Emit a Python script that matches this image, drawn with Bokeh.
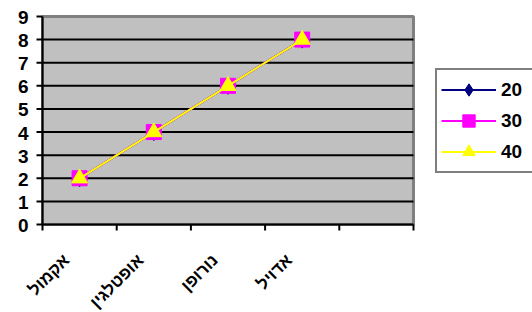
import math
from bokeh.plotting import figure
from bokeh.models import Range1d, Legend, LegendItem
from bokeh.core.properties import value
from bokeh.embed import file_html
from bokeh.resources import INLINE

categories = ["אקמול", "אופטלגין", "נורופן", "אדויל", ""]
series_names = ["20", "30", "40"]
s20 = [2, 4, 6, 8]
s30 = [2, 4, 6, 8]
s40 = [2, 4, 6, 8]
y_ticks = list(range(0, 10))

FONT = "Liberation Sans"

W, H = 532, 312
LEFT, TOP = 42, 16            # top-left corner of the grey plot area
PLOT_W, PLOT_H = 371, 208     # grey plot area in px
TICK = 6

n = len(categories)
y_max = y_ticks[-1]
px_x = PLOT_W / n
px_y = PLOT_H / y_max
# category slots on a numeric axis (slot i spans i..i+1, centre i+0.5)
centres = [i + 0.5 for i in range(n)]
bounds = list(range(n + 1))

# the frame covers the whole canvas so that no text is clipped
p = figure(width=W, height=H, output_backend="svg", toolbar_location=None,
           x_range=Range1d(-LEFT / px_x, (W - LEFT) / px_x),
           y_range=Range1d(-(H - TOP - PLOT_H) / px_y, y_max + TOP / px_y),
           min_border=0)

p.background_fill_color = "white"
p.border_fill_color = "white"
p.outline_line_color = None
p.xgrid.visible = False
p.ygrid.visible = False
p.xaxis.visible = False
p.yaxis.visible = False

# grey plot area with grey border
p.quad(left=[0], right=[n], bottom=[0], top=[y_max], fill_color="#C0C0C0",
       line_color="#808080", line_width=3, level="image")
# horizontal grid lines, only across the plot area
grid = y_ticks[1:-1]
p.segment(x0=[0] * len(grid), x1=[n] * len(grid), y0=grid, y1=grid,
          line_color="black", line_width=2, level="underlay")

# category axis: line, tick marks at slot boundaries, rotated labels
p.segment(x0=[0], x1=[n], y0=[0], y1=[0], line_color="black", line_width=2, level="underlay")
p.segment(x0=bounds, x1=bounds, y0=[0] * len(bounds), y1=[-TICK / px_y] * len(bounds),
          line_color="black", line_width=2, level="underlay")
p.text(x=centres, y=[0] * n, text=categories, angle=math.pi / 4,
       x_offset=-13, y_offset=33, text_align="right", text_baseline="middle",
       text_font=value(FONT), text_font_style=value("bold"), text_font_size=value("17px"),
       text_color="black")

# value axis: line, tick marks, labels
p.segment(x0=[0], x1=[0], y0=[0], y1=[y_max], line_color="black", line_width=2, level="underlay")
p.segment(x0=[0] * len(y_ticks), x1=[-TICK / px_x] * len(y_ticks), y0=y_ticks, y1=y_ticks,
          line_color="black", line_width=2, level="underlay")
p.text(x=[0] * len(y_ticks), y=y_ticks, text=[str(t) for t in y_ticks],
       x_offset=-14, y_offset=1, text_align="right", text_baseline="middle",
       text_font=value(FONT), text_font_style=value("bold"), text_font_size=value("19px"),
       text_color="black")

xs = centres[:len(s20)]
items = []

l1 = p.line(xs, s20, line_color="#000080", line_width=2)
m1 = p.scatter(xs, s20, marker="diamond", size=17,
               fill_color="#000080", line_color="#000080")
items.append(LegendItem(label=series_names[0], renderers=[l1, m1]))

l2 = p.line(xs, s30, line_color="#FF00FF", line_width=2)
m2 = p.scatter(xs, s30, marker="square", size=15,
               fill_color="#FF00FF", line_color="#FF00FF")
items.append(LegendItem(label=series_names[1], renderers=[l2, m2]))

l3 = p.line(xs, s40, line_color="#FFFF00", line_width=2)
m3 = p.scatter(xs, s40, marker="triangle", size=16,
               fill_color="#FFFF00", line_color="#FFFF00")
items.append(LegendItem(label=series_names[2], renderers=[l3, m3]))

legend = Legend(items=items, location=(435, 139))
legend.label_text_font = FONT
legend.label_text_font_style = "bold"
legend.label_text_font_size = "19px"
legend.label_text_color = "black"
legend.glyph_width = 55
legend.glyph_height = 31
legend.label_height = 31
legend.label_width = 40
legend.spacing = 0
legend.padding = 4
legend.margin = 0
legend.label_standoff = 5
legend.border_line_color = "black"
legend.border_line_width = 2
legend.background_fill_color = "white"
legend.background_fill_alpha = 1
p.add_layout(legend)

open("out.html", "w").write(file_html(p, INLINE))
